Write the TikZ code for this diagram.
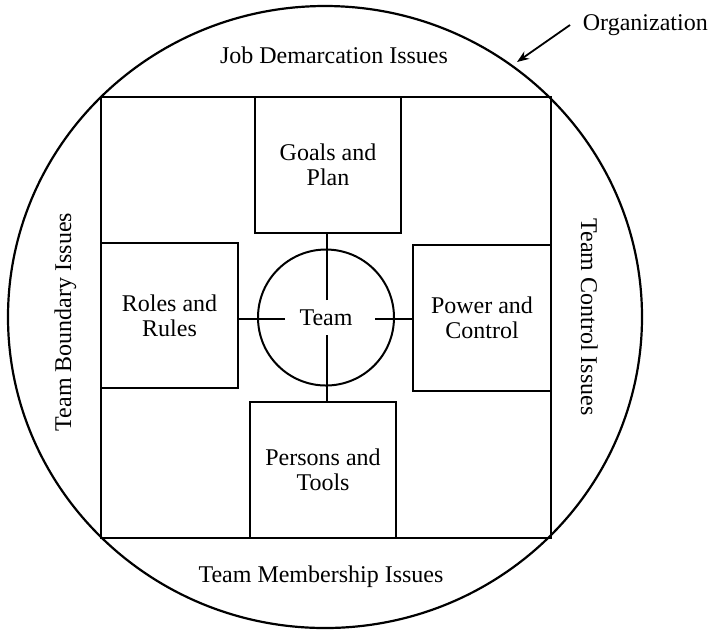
\documentclass[tikz,border=0pt]{standalone}
\usepackage{fontspec}
\setmainfont{Liberation Serif}
\usetikzlibrary{arrows.meta}

\begin{document}
\begin{tikzpicture}[x=0.5pt, y=-0.5pt, >={Stealth[length=6pt, width=4.5pt]}, line width=0.9pt,
      every node/.style={font=\fontsize{12}{12.5}\selectfont},
      part/.style={draw, line width=0.9pt, inner sep=0pt,
                   align=center, minimum width=#1},
      issue/.style={inner sep=0pt, anchor=base}]
    \useasboundingbox (0,0) rectangle (712,629);

    % Organization and team frame
    \draw[line width=1.1pt] (325,317) ellipse [x radius=317, y radius=311];
    \node[part=225pt, minimum height=220.5pt] (frame) at (326,317.5) {};

    % Team and its four parts
    \node[part=68pt, circle, line width=1pt] (team)    at (326,317.5) {Team};
    \node[part=73pt,   minimum height=68pt]   (goals)   at (328,165)   {Goals and\\Plan};
    \node[part=68.5pt, minimum height=72.5pt] (roles)   at (169.5,315.5) {Roles and\\Rules};
    \node[part=69pt,   minimum height=73pt]   (power)   at (482,318)   {Power and\\Control};
    \node[part=73pt,   minimum height=68pt]   (persons) at (323,470)   {Persons and\\Tools};

    % Spokes
    \coordinate (tn) at (327,300);
    \coordinate (ts) at (327,335);
    \coordinate (tw) at (285,319);
    \coordinate (te) at (375,319);
    \draw (tn) -- (tn |- goals.south);
    \draw (ts) -- (ts |- persons.north);
    \draw (tw) -- (tw -| roles.east);
    \draw (te) -- (te -| power.west);

    % Issues round the frame
    \node[issue] (demarc)  at (334,63)  {Job Demarcation Issues};
    \node[issue] (member)  at (321,582) {Team Membership Issues};
    \node[issue, rotate=90]  (boundary) at (71,322)  {Team Boundary Issues};
    \node[issue, rotate=-90] (control)  at (581,317) {Team Control Issues};

    % Organization label
    \node[inner sep=6pt, anchor=west] (org) at (570,25) {Organization};
    \coordinate (orgtip) at (517,62);
    \draw[->] (org.west) -- (orgtip);

\end{tikzpicture}
\end{document}
